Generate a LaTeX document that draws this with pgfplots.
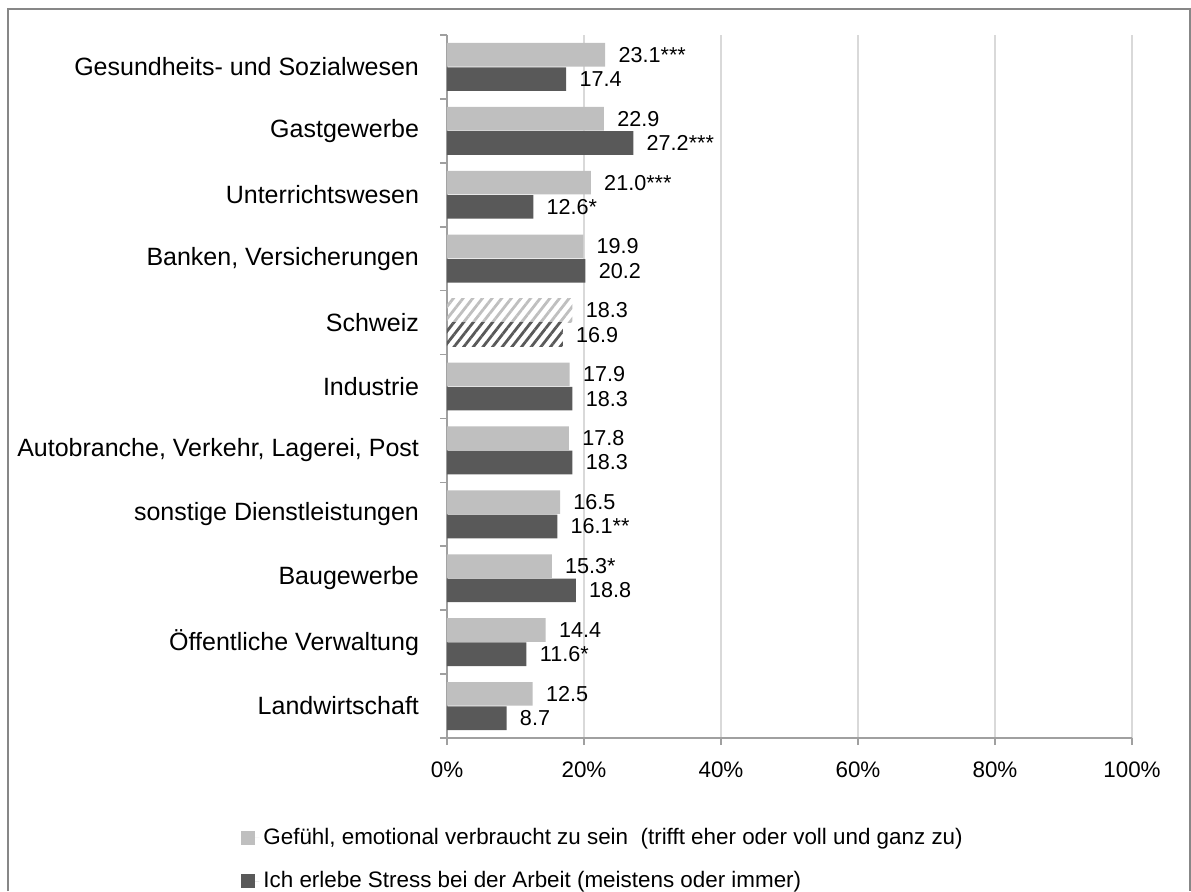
\documentclass[border=0pt]{standalone}
\usepackage{fontspec}
\setmainfont{Liberation Sans}
\usepackage{pgfplots}
\pgfplotsset{compat=1.18}
\usetikzlibrary{patterns.meta}
\definecolor{hell}{HTML}{BFBFBF}
\definecolor{dunkel}{HTML}{595959}
\definecolor{achse}{HTML}{A0A0A0}
\definecolor{gitter}{HTML}{D9D9D9}
\definecolor{rahmen}{HTML}{878787}

\begin{document}
\begin{tikzpicture}
\useasboundingbox (0,0) rectangle (595.5pt,445.5pt);
\draw[rahmen,line width=1pt] (4pt,0) -- (4pt,441pt) -- (595pt,441pt) -- (595pt,0);
\begin{axis}[
  at={(223.5pt,76.5pt)}, anchor=south west,
  scale only axis, width=342.5pt, height=351.5pt,
  xbar, bar width=0.37,
  xmin=0, xmax=100, ymin=-0.5, ymax=10.5,
  xtick={0,20,...,100},
  xticklabels={0\%,20\%,40\%,60\%,80\%,100\%},
  ytick={0,...,10},
  yticklabels={Landwirtschaft,Öffentliche Verwaltung,Baugewerbe,sonstige Dienstleistungen,
    {Autobranche, Verkehr, Lagerei, Post},Industrie,Schweiz,{Banken, Versicherungen},
    Unterrichtswesen,Gastgewerbe,Gesundheits- und Sozialwesen},
  minor ytick={-0.5,0.5,...,10.5},
  axis x line*=bottom, axis y line*=left,
  axis line style={achse, line width=0.8pt},
  xmajorgrids, major grid style={gitter, line width=0.8pt},
  tick align=outside, major tick length=3.5pt, minor tick length=3.5pt,
  every tick/.style={achse, line width=0.8pt},
  major y tick style={draw=none},
  xticklabel style={font=\fontsize{11.2}{13}\selectfont, yshift=-5pt},
  yticklabel style={font=\fontsize{12.5}{15}\selectfont, xshift=-7pt},
  point meta=explicit symbolic,
  nodes near coords,
  nodes near coords style={font=\fontsize{10.8}{12}\selectfont, text=black,
    anchor=west, inner sep=0pt, xshift=6.5pt},
  legend style={draw=none, fill=none, at={(-0.3007,-0.122)}, anchor=north west,
    font=\fontsize{11.2}{13}\selectfont, row sep=8pt, inner sep=0pt},
  legend cell align=left,
  legend image code/.code={\fill[#1] (0pt,-3.5pt) rectangle (7pt,3.5pt);
    \path (0pt,0pt) -- (9pt,0pt);},
]
\addplot[fill=hell, draw=none, bar shift=0.19] coordinates {
  (12.5,0) [12.5] (14.4,1) [14.4] (15.3,2) [15.3*] (16.5,3) [16.5]
  (17.8,4) [17.8] (17.9,5) [17.9] (19.9,7) [19.9] (21.0,8) [21.0***]
  (22.9,9) [22.9] (23.1,10) [23.1***]
};
\addlegendentry{Gefühl, emotional verbraucht zu sein~ (trifft eher oder voll und ganz zu)}
\addplot[fill=dunkel, draw=none, bar shift=-0.19] coordinates {
  (8.7,0) [8.7] (11.6,1) [11.6*] (18.8,2) [18.8] (16.1,3) [16.1**]
  (18.3,4) [18.3] (18.3,5) [18.3] (20.2,7) [20.2] (12.6,8) [12.6*]
  (27.2,9) [27.2***] (17.4,10) [17.4]
};
\addlegendentry{Ich erlebe Stress bei der Arbeit (meistens oder immer)}
% Schweiz: schraffiert
\addplot[forget plot, draw=none, bar shift=0.19,
  pattern={Lines[angle=52,distance=3.8pt,line width=1.4pt]}, pattern color=hell]
  coordinates {(18.3,6) [18.3]};
\addplot[forget plot, draw=none, bar shift=-0.19,
  pattern={Lines[angle=52,distance=3.8pt,line width=1.4pt]}, pattern color=dunkel]
  coordinates {(16.9,6) [16.9]};
\end{axis}
\end{tikzpicture}
\end{document}
